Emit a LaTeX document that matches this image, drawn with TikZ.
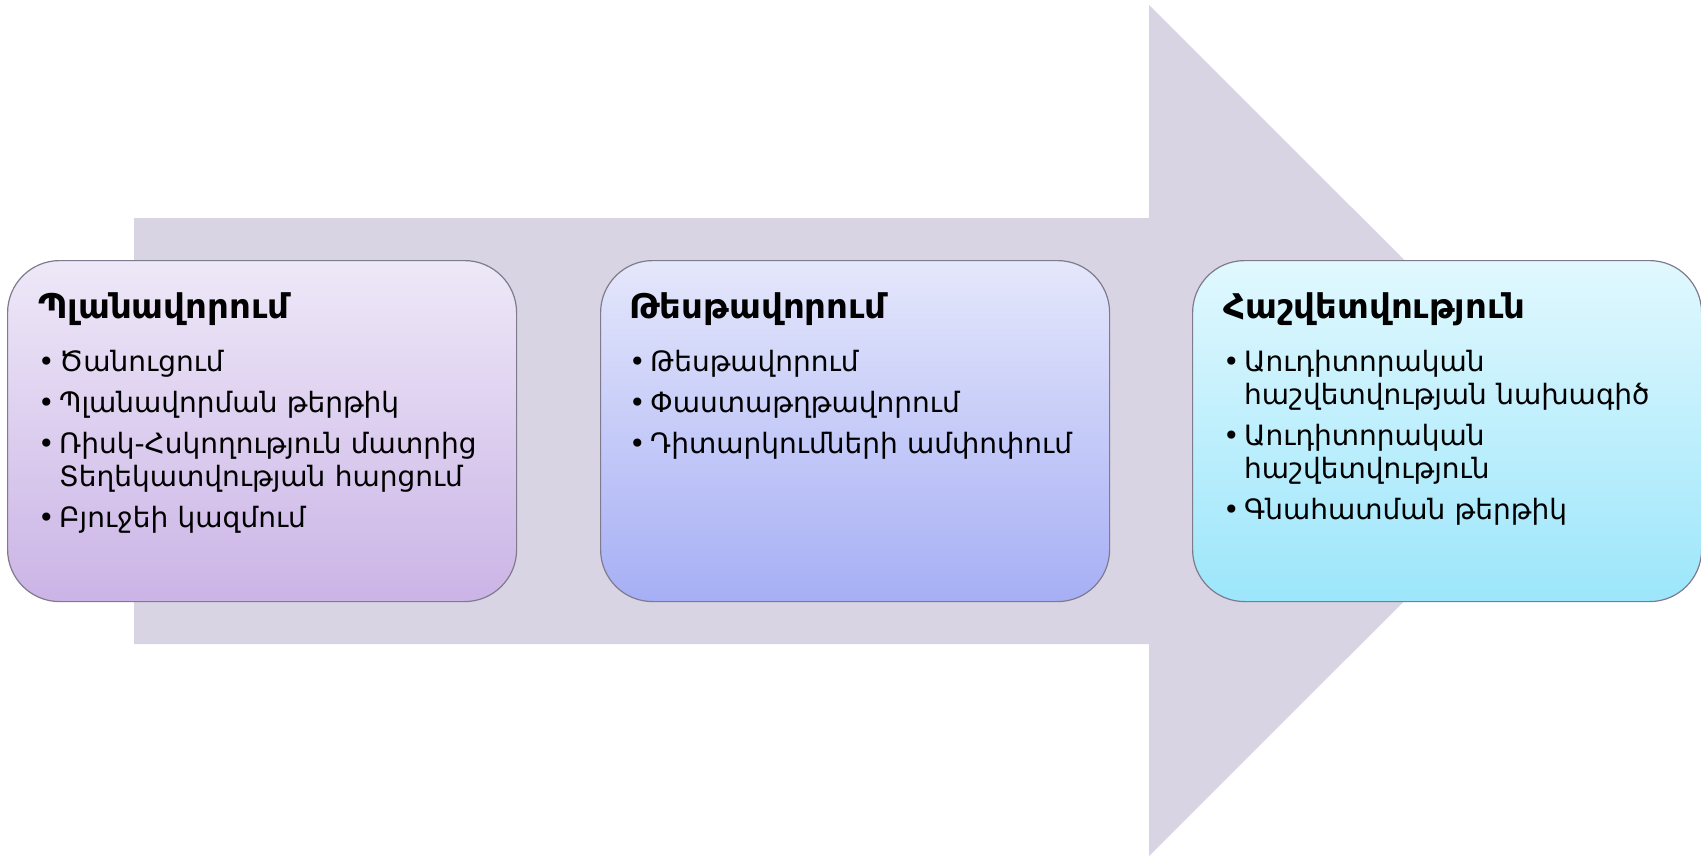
\documentclass[tikz,border=0pt]{standalone}
\usepackage{fontspec}
\setmainfont{DejaVu Sans}
\usetikzlibrary{positioning}

\definecolor{arrowgray}{HTML}{D8D4E3}
\definecolor{planTop}{HTML}{EEE8F8}
\definecolor{planBottom}{HTML}{CBB4E6}
\definecolor{testTop}{HTML}{E5E7FB}
\definecolor{testBottom}{HTML}{A6AFF5}
\definecolor{reportTop}{HTML}{E1F8FE}
\definecolor{reportBottom}{HTML}{9CE6FB}
\definecolor{boxborder}{HTML}{7E7C8C}

\newcommand{\phasetitle}[1]{{\fontsize{34}{36}\selectfont\bfseries #1\par}\vskip 20pt}
\newcommand{\phaseitem}[1]{\par\hangindent=21pt\hangafter=1\makebox[21pt][l]{•}#1\par\vskip 8pt}

\tikzset{
  phasebox/.style={draw=boxborder, line width=1.2pt, rounded corners=52pt,
    minimum width=509pt, minimum height=341pt, anchor=north west, inner sep=0pt},
  phasetext/.style={anchor=north west, inner sep=0pt, text width=460pt, align=left,
    font=\fontsize{28}{33}\selectfont}
}

\begin{document}
\begin{tikzpicture}[x=1pt, y=-1pt]
    \useasboundingbox (0,0) rectangle (1701,856);
    %% big arrow behind the phases
    \fill[arrowgray] (134,218) -- (1149,218) -- (1149,5) -- (1575,430.5)
        -- (1149,856) -- (1149,644) -- (134,644) -- cycle;

    %% the three phases
    \node[phasebox, top color=planTop, bottom color=planBottom] (plan) at (7,260) {};
    \node[phasebox, top color=testTop, bottom color=testBottom] (test) at (600,260) {};
    \node[phasebox, top color=reportTop, bottom color=reportBottom] (report) at (1192,260) {};

    \node[phasetext, below right=32pt and 31pt of plan.north west] (plantext) {%
        \phasetitle{Պլանավորում}
        \phaseitem{Ծանուցում}
        \phaseitem{Պլանավորման թերթիկ}
        \phaseitem{Ռիսկ-Հսկողություն մատրից\newline Տեղեկատվության հարցում}
        \phaseitem{Բյուջեի կազմում}};
    \node[phasetext, below right=32pt and 29pt of test.north west] (testtext) {%
        \phasetitle{Թեսթավորում}
        \phaseitem{Թեսթավորում}
        \phaseitem{Փաստաթղթավորում}
        \phaseitem{Դիտարկումների ամփոփում}};
    \node[phasetext, below right=32pt and 31pt of report.north west] (reporttext) {%
        \phasetitle{Հաշվետվություն}
        \phaseitem{Աուդիտորական\newline հաշվետվության նախագիծ}
        \phaseitem{Աուդիտորական\newline հաշվետվություն}
        \phaseitem{Գնահատման թերթիկ}};

\end{tikzpicture}
\end{document}
